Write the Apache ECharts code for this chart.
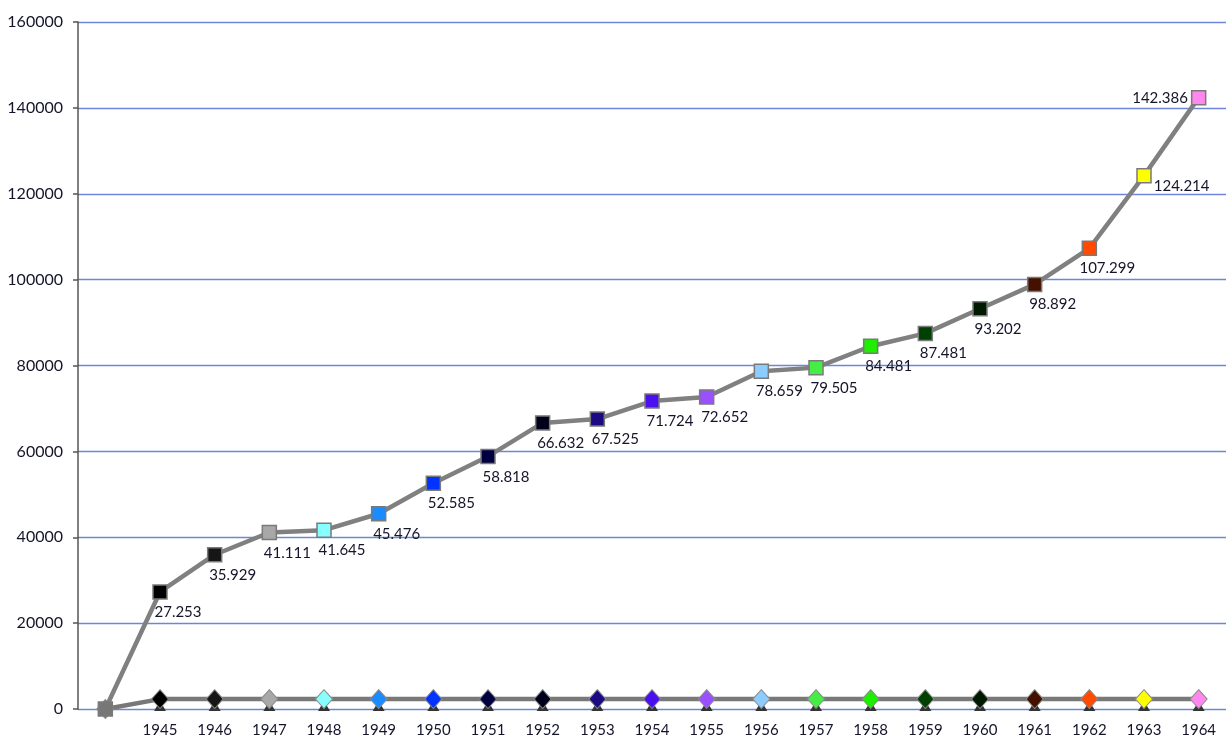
<!DOCTYPE html>
<html>
<head>
<meta charset="utf-8">
<title>1945–1964</title>
<script src="https://cdn.jsdelivr.net/npm/echarts@6/dist/echarts.min.js"></script>
<style>
  html, body { margin: 0; padding: 0; background: #ffffff; }
  #chart { width: 1226px; height: 738px; }
</style>
</head>
<body>
<div id="chart"></div>
<script>
// Categories: an unlabeled starting point followed by the years
const categories = ['', '1945', '1946', '1947', '1948', '1949', '1950', '1951', '1952', '1953',
  '1954', '1955', '1956', '1957', '1958', '1959', '1960', '1961', '1962', '1963', '1964'];

// Cumulative totals (upper line)
const totals = [0, 27253, 35929, 41111, 41645, 45476, 52585, 58818, 66632, 67525, 71724,
  72652, 78659, 79505, 84481, 87481, 93202, 98892, 107299, 124214, 142386];

// Lower line (diamonds)
const baseline = [0, 2300, 2300, 2300, 2300, 2300, 2300, 2300, 2300, 2300, 2300,
  2300, 2300, 2300, 2300, 2300, 2300, 2300, 2300, 2300, 2300];

// Small triangle markers near zero
const floor = [700, 700, 700, 700, 700, 700, 700, 700, 700, 700, 700,
  700, 700, 700, 700, 700, 700, 700, 700, 700, 700];

// Y axis tick values
const yTicks = [0, 20000, 40000, 60000, 80000, 100000, 120000, 140000, 160000];

// Per-point marker colours
const pointColors = ['#777777', '#000000', '#161616', '#a8a8a8', '#88ffff', '#1a8cff', '#0033ff',
  '#000040', '#00001a', '#1c0a85', '#4a10f0', '#9a50ff', '#8cccff', '#44ee44', '#1eee00',
  '#004000', '#001a00', '#441000', '#ff4a00', '#ffff00', '#ff88ee'];

const fontFamily = 'Lato, "DejaVu Sans", sans-serif';
const textColor = '#14142a';

function dotted(v) {
  return String(v).replace(/\B(?=(\d{3})+(?!\d))/g, '.');
}

const totalPoints = totals.map(function (v, i) {
  const item = {
    value: v,
    itemStyle: { color: pointColors[i] }
  };
  if (i === 0) {
    item.label = { show: false };
  } else if (i === totals.length - 1) {
    item.label = { position: 'left', distance: 3, offset: [0, 1] };
  } else if (i === totals.length - 2) {
    item.label = { position: 'right', distance: 2, offset: [0, 11] };
  }
  return item;
});

const basePoints = baseline.map(function (v, i) {
  return { value: v, itemStyle: { color: pointColors[i] } };
});

const floorPoints = floor.map(function (v, i) {
  return { value: v, itemStyle: { color: i === 0 ? '#666666' : '#333333' } };
});

const chart = echarts.init(document.getElementById('chart'), null, { renderer: 'canvas' });

chart.setOption({
  animation: false,
  backgroundColor: '#ffffff',
  grid: { left: 78, top: 22, width: 1157, height: 688, containLabel: false },
  xAxis: {
    type: 'category',
    data: categories,
    boundaryGap: true,
    axisLine: { show: false },
    axisTick: { show: false },
    axisLabel: {
      margin: 14,
      fontFamily: fontFamily,
      fontSize: 15,
      color: textColor
    },
    splitLine: { show: false }
  },
  yAxis: {
    type: 'value',
    min: yTicks[0],
    max: yTicks[yTicks.length - 1],
    interval: yTicks[1] - yTicks[0],
    axisLine: { show: true, lineStyle: { color: '#555555', width: 1.5 } },
    axisTick: { show: true, inside: false, length: 5, lineStyle: { color: '#555555', width: 1.5 } },
    axisLabel: {
      margin: 15,
      fontFamily: fontFamily,
      fontSize: 16,
      color: textColor,
      formatter: function (v) { return String(v); }
    },
    splitLine: { show: true, lineStyle: { color: '#6f86d8', width: 1.3 } }
  },
  series: [
    {
      type: 'line',
      data: floorPoints,
      symbol: 'triangle',
      symbolSize: [12, 10],
      showAllSymbol: true,
      lineStyle: { width: 0, opacity: 0 },
      z: 1
    },
    {
      type: 'line',
      data: basePoints,
      symbol: 'diamond',
      symbolSize: [17, 19],
      showAllSymbol: true,
      lineStyle: { color: '#787878', width: 4.5 },
      itemStyle: { borderColor: '#8a8a8a', borderWidth: 1 },
      z: 2
    },
    {
      type: 'line',
      data: totalPoints,
      symbol: 'rect',
      symbolSize: 14,
      showAllSymbol: true,
      lineStyle: { color: '#808080', width: 4.5 },
      itemStyle: { borderColor: '#7a7a7a', borderWidth: 1.5 },
      label: {
        show: true,
        position: 'bottom',
        distance: 5,
        offset: [18, 0],
        fontFamily: fontFamily,
        fontSize: 15,
        color: textColor,
        formatter: function (p) { return dotted(p.value); }
      },
      z: 3
    }
  ]
});
</script>
</body>
</html>
